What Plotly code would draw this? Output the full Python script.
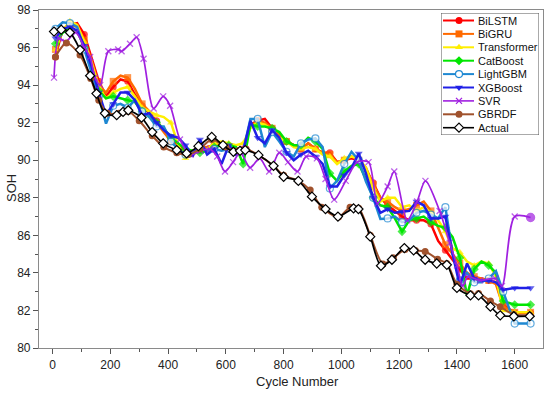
import plotly.graph_objects as go

# ---------------- data ----------------
cycles = [10, 35, 60, 85, 110, 135, 160, 185, 210, 235, 260, 285, 310, 335, 360, 385,
          410, 435, 460, 485, 510, 535, 560, 585, 610, 635, 660, 685, 710, 735, 760, 785,
          810, 835, 860, 885, 910, 935, 960, 985, 1010, 1035, 1060, 1085, 1110, 1135, 1160,
          1185, 1210, 1235, 1260, 1285, 1310, 1335, 1360, 1385, 1410, 1435, 1460, 1485,
          1510, 1535, 1560, 1600, 1655]

bilstm = [95.5, 97.0, 97.2, 97.3, 96.7, 95.5, 94.2, 93.4, 93.9, 94.3, 94.2, 93.5, 92.9, 92.5,
          92.1, 91.6, 91.2, 90.8, 90.5, 90.4, 90.6, 90.7, 90.8, 90.8, 90.7, 90.6, 90.6, 91.9,
          92.1, 92.2, 91.7, 91.3, 91.0, 90.8, 90.6, 90.9, 90.6, 90.4, 90.4, 89.9, 90.0, 90.1,
          90.0, 89.5, 88.8, 88.0, 87.6, 87.3, 87.0, 86.8, 86.8, 86.8, 86.6, 85.7, 85.2, 84.7,
          84.2, 83.7, 83.7, 83.7, 83.6, 83.5, 82.3, 81.87, 81.87]

bigru = [95.9, 96.9, 97.2, 97.1, 96.4, 95.3, 94.0, 93.6, 94.2, 94.5, 94.4, 93.8, 93.0, 92.6,
         92.0, 91.5, 91.0, 90.7, 90.4, 90.5, 90.6, 90.7, 90.8, 90.8, 90.7, 90.6, 90.5, 91.8,
         92.1, 92.0, 91.7, 91.4, 91.0, 90.8, 90.6, 90.9, 90.6, 90.4, 90.3, 89.9, 90.0, 90.2,
         90.0, 89.6, 88.7, 88.0, 87.8, 87.5, 87.3, 87.4, 87.6, 87.8, 87.3, 86.4, 85.5, 85.0,
         84.5, 84.0, 83.8, 83.7, 83.6, 83.4, 82.2, 81.9, 81.9]

transformer = [95.9, 96.9, 97.4, 97.2, 96.3, 95.2, 93.9, 93.3, 93.6, 93.8, 93.9, 93.4, 92.8,
               92.6, 92.4, 92.3, 92.0, 90.8, 90.1, 90.3, 90.5, 90.6, 90.9, 91.0, 90.9, 90.8,
               90.9, 91.7, 92.0, 91.9, 91.6, 91.2, 91.0, 90.7, 90.6, 90.7, 90.6, 90.3, 90.2,
               89.8, 90.1, 90.2, 90.1, 89.6, 88.5, 87.8, 88.0, 88.0, 87.5, 87.6, 87.3, 87.5,
               87.2, 86.8, 86.2, 85.3, 85.1, 84.6, 84.4, 84.6, 84.5, 83.8, 82.0, 81.9, 81.9]

catboost = [96.2, 96.8, 97.0, 96.9, 96.0, 94.8, 93.7, 93.3, 93.4, 93.3, 93.2, 93.1, 92.6, 92.3,
            92.0, 91.7, 91.2, 90.9, 90.6, 90.5, 90.4, 90.5, 90.7, 90.8, 90.8, 90.7, 89.8, 91.9,
            91.8, 91.8, 91.7, 91.5, 91.0, 90.8, 90.8, 91.2, 91.0, 90.6, 89.3, 88.9, 89.4, 89.7,
            89.8, 89.0, 88.0, 87.6, 87.5, 86.9, 86.2, 86.8, 86.9, 87.0, 86.7, 86.5, 86.4, 85.9,
            84.8, 82.8, 84.2, 84.6, 84.4, 84.0, 82.5, 82.3, 82.3]

lightgbm = [97.0, 97.35, 97.3, 97.1, 95.9, 94.6, 93.4, 91.95, 92.9, 93.0, 92.8, 93.2, 92.6,
            92.3, 91.8, 91.8, 91.0, 90.6, 90.3, 90.4, 90.8, 90.5, 90.6, 90.5, 90.6, 90.4, 90.5,
            92.2, 92.2, 90.7, 91.5, 91.0, 90.45, 90.2, 90.9, 91.1, 91.16, 90.7, 88.5, 88.9,
            89.8, 90.45, 90.0, 88.86, 88.0, 86.87, 86.9, 87.0, 86.7, 86.8, 87.2, 87.3, 87.1,
            86.9, 87.5, 85.0, 83.6, 84.0, 83.5, 83.5, 83.7, 84.1, 83.0, 81.3, 81.3]

xgboost = [96.5, 97.0, 97.1, 96.9, 96.1, 95.0, 93.6, 92.4, 93.0, 93.6, 93.6, 93.2, 92.4, 92.5,
           92.0, 91.6, 91.3, 91.2, 90.8, 90.2, 91.1, 90.3, 90.6, 89.8, 90.8, 90.3, 90.5, 92.1,
           91.2, 90.9, 91.6, 91.2, 90.4, 90.0, 90.3, 90.5, 90.2, 89.8, 88.6, 88.6, 89.2, 89.6,
           90.36, 89.3, 88.0, 87.2, 87.4, 87.2, 87.26, 87.3, 87.8, 87.6, 86.9, 86.9, 87.0, 85.0,
           83.3, 84.5, 83.7, 83.6, 83.6, 83.5, 83.1, 83.2, 83.2]

svr_x = [5, 22, 45, 80, 110, 130, 147, 165, 193, 227, 239, 268, 291, 315, 350, 383, 407, 441,
         478, 512, 545, 570, 597, 625, 650, 684, 717, 750, 785, 815, 848, 878, 915, 945, 975,
         1015, 1055, 1094, 1125, 1160, 1183, 1228, 1262, 1291, 1340, 1375, 1400, 1420, 1438,
         1480, 1533, 1556, 1600, 1655]
svr_y = [94.4, 96.5, 96.3, 96.8, 96.0, 95.5, 94.4, 94.0, 95.8, 95.9, 95.8, 96.2, 96.55, 95.4,
         92.75, 93.4, 92.9, 91.1, 90.3, 90.5, 90.6, 90.2, 89.4, 89.9, 90.4, 89.6, 90.1, 89.4,
         90.4, 89.9, 89.4, 90.2, 90.1, 89.0, 87.9, 88.9, 89.9, 89.9, 87.7, 88.6, 89.4, 86.8,
         87.8, 88.9, 87.3, 85.6, 84.4, 83.3, 83.8, 83.6, 83.7, 83.3, 87.0, 86.95]

gbrdf_x = [10, 48, 95, 132, 160, 190, 230, 262, 300, 345, 385, 430, 470, 510, 551, 600, 640,
           670, 713, 765, 800, 851, 892, 932, 990, 1030, 1060, 1100, 1144, 1180, 1220, 1256,
           1290, 1333, 1365, 1400, 1447, 1475, 1516, 1550, 1597, 1652]
gbrdf_y = [95.5, 96.24, 95.6, 94.35, 93.2, 92.5, 92.5, 92.6, 92.1, 91.3, 90.7, 90.4, 90.3,
           90.6, 91.1, 90.7, 90.5, 90.6, 90.27, 89.7, 89.2, 88.9, 88.41, 87.5, 86.97, 87.5,
           87.44, 86.0, 84.48, 84.8, 85.25, 85.19, 85.14, 84.73, 84.5, 83.4, 82.89, 82.9,
           82.5, 82.2, 81.78, 81.75]

actual_x = [5, 30, 60, 95, 130, 152, 181, 222, 244, 262, 308, 345, 383, 430, 464, 505, 551,
            590, 626, 649, 667, 713, 765, 800, 851, 898, 945, 988, 1042, 1059, 1100, 1137,
            1175, 1218, 1250, 1290, 1330, 1365, 1400, 1447, 1475, 1516, 1550, 1597, 1652]
actual_y = [96.85, 96.95, 96.8, 95.88, 94.5, 93.55, 92.5, 92.4, 92.57, 92.66, 92.27, 91.5,
            90.9, 90.54, 90.36, 90.75, 91.24, 90.8, 90.45, 90.5, 90.54, 90.27, 89.7, 89.12,
            88.9, 88.06, 87.4, 87.0, 87.44, 87.4, 85.93, 84.38, 84.7, 85.32, 85.2, 84.7,
            84.5, 84.43, 83.2, 82.8, 82.8, 82.2, 81.74, 81.69, 81.69]

x_ticks = [0, 200, 400, 600, 800, 1000, 1200, 1400, 1600]
y_ticks = [80, 82, 84, 86, 88, 90, 92, 94, 96, 98]

# ---------------- figure ----------------
W, H = 550, 393
ML, MR, MT, MB = 39, 7, 10, 45
PW, PH = W - ML - MR, H - MT - MB

fig = go.Figure()


def msizes(n, s):
    # marker on every other point, always on the last two
    return [s if (i % 2 == 0 or i >= n - 2) else 0 for i in range(n)]


styles = {
    "BiLSTM": dict(col="#ff0000", sym="circle", fill="#ff0000"),
    "BiGRU": dict(col="#ff6a00", sym="square", fill="#ff6a00"),
    "Transformer": dict(col="#ffee00", sym="triangle-up", fill="#ffee00"),
    "CatBoost": dict(col="#00e600", sym="diamond", fill="#00e600"),
    "LightGBM": dict(col="#1e88d2", sym="circle", fill="white"),
    "XGBoost": dict(col="#2020e6", sym="triangle-down", fill="#2020e6"),
    "SVR": dict(col="#a020e0", sym="x-thin", fill="#a020e0"),
    "GBRDF": dict(col="#a0522d", sym="circle", fill="#a0522d"),
    "Actual": dict(col="#000000", sym="diamond", fill="white"),
}


def marker_for(name, size):
    s = styles[name]
    if name in ("LightGBM", "Actual"):
        return dict(symbol=s["sym"], size=size, color=s["fill"],
                    line=dict(color=s["col"], width=1.2))
    if name == "SVR":
        return dict(symbol="x-thin", size=6, color=s["col"],
                    line=dict(color=s["col"], width=1.3))
    return dict(symbol=s["sym"], size=size, color=s["fill"], line=dict(width=0))


cluster = [("BiLSTM", bilstm), ("BiGRU", bigru), ("Transformer", transformer),
           ("CatBoost", catboost), ("LightGBM", lightgbm), ("XGBoost", xgboost)]

n = len(cycles)
for name, ys in cluster:
    fig.add_trace(go.Scatter(x=cycles, y=ys, name=name, mode="lines+markers",
                             line=dict(color=styles[name]["col"], width=2.5),
                             marker=marker_for(name, msizes(n, 7)), showlegend=False))

# SVR: x markers, the very last point drawn as a filled dot as in the source figure
svr_marker = marker_for("SVR", 6)
svr_marker["symbol"] = ["x-thin"] * (len(svr_x) - 1) + ["circle"]
svr_marker["size"] = [6] * (len(svr_x) - 1) + [8]
fig.add_trace(go.Scatter(x=svr_x, y=svr_y, name="SVR", mode="lines+markers",
                         line=dict(color=styles["SVR"]["col"], width=1.7, shape="spline",
                                   smoothing=0.8),
                         marker=svr_marker, showlegend=False))

fig.add_trace(go.Scatter(x=gbrdf_x, y=gbrdf_y, name="GBRDF", mode="lines+markers",
                         line=dict(color=styles["GBRDF"]["col"], width=2, shape="spline",
                                   smoothing=0.8),
                         marker=marker_for("GBRDF", 7), showlegend=False))

fig.add_trace(go.Scatter(x=actual_x, y=actual_y, name="Actual", mode="lines+markers",
                         line=dict(color="black", width=1.7, shape="spline", smoothing=0.8),
                         marker=marker_for("Actual", 7), showlegend=False))

# ---------------- custom legend (compact, like the reference) ----------------
legend_names = ["BiLSTM", "BiGRU", "Transformer", "CatBoost", "LightGBM", "XGBoost",
                "SVR", "GBRDF", "Actual"]
LX0, LX1, LY0, LY1 = 441, 539, 13, 135
row0, dy = 20.5, 13.4
annotations = []
for i, name in enumerate(legend_names):
    yy = row0 + i * dy
    s = styles[name]
    fig.add_trace(go.Scatter(x=[443, 474], y=[yy, yy], mode="lines",
                             line=dict(color=s["col"],
                                       width=2 if name not in ("SVR", "Actual") else 1.6),
                             xaxis="x2", yaxis="y2", showlegend=False, hoverinfo="skip"))
    fig.add_trace(go.Scatter(x=[459], y=[yy], mode="markers",
                             marker=marker_for(name, 7),
                             xaxis="x2", yaxis="y2", showlegend=False, hoverinfo="skip"))
    annotations.append(dict(x=476, y=yy, xref="x2", yref="y2", text=name, showarrow=False,
                            xanchor="left", yanchor="middle",
                            font=dict(size=11, color="#111")))

# axis titles as annotations
annotations.append(dict(x=(297 - ML) / PW, y=-(381 - MT - PH) / PH, xref="paper", yref="paper",
                        text="Cycle Number", showarrow=False, xanchor="center",
                        yanchor="middle", font=dict(size=13, color="#222")))
annotations.append(dict(x=-(ML - 11) / PW, y=(MT + PH - 188) / PH, xref="paper", yref="paper",
                        text="SOH", showarrow=False, textangle=-90, xanchor="center",
                        yanchor="middle", font=dict(size=13, color="#222")))

axis_common = dict(showline=True, linecolor="#8a8a8a", linewidth=1.2, mirror=True,
                   ticks="outside", ticklen=5, tickcolor="#555", showgrid=False,
                   zeroline=False, tickfont=dict(size=12, color="#222"), automargin=False)

fig.update_layout(
    width=W, height=H,
    margin=dict(l=ML, r=MR, t=MT, b=MB, autoexpand=False),
    paper_bgcolor="white", plot_bgcolor="white",
    font=dict(family="Arial, Liberation Sans, sans-serif", color="#222"),
    xaxis=dict(range=[-47, 1698], tickvals=x_ticks,
               minor=dict(ticks="outside", ticklen=3, dtick=100, tick0=0, tickcolor="#555"),
               **axis_common),
    yaxis=dict(range=[80, 98], tickvals=y_ticks,
               minor=dict(ticks="outside", ticklen=3, dtick=1, tick0=80, tickcolor="#555"),
               **axis_common),
    xaxis2=dict(domain=[(LX0 - ML) / PW, (LX1 - ML) / PW], range=[LX0, LX1], visible=False,
                fixedrange=True, anchor="y2"),
    yaxis2=dict(domain=[(MT + PH - LY1) / PH, (MT + PH - LY0) / PH], range=[LY1, LY0],
                visible=False, fixedrange=True, anchor="x2"),
    shapes=[dict(type="rect", xref="x2", yref="y2", x0=LX0, x1=LX1, y0=LY0, y1=LY1,
                 line=dict(color="#555", width=1), fillcolor="rgba(0,0,0,0)", layer="above")],
    annotations=annotations,
    showlegend=False,
)

# remove the default page margin so the figure sits at the window's top-left corner
fig.write_html("out.html", config={"displayModeBar": False},
               post_script="document.body.style.margin='0';document.body.style.padding='0';")
